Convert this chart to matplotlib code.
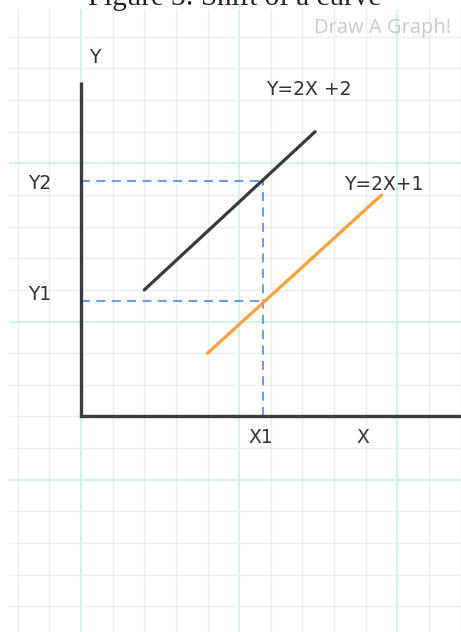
import matplotlib
matplotlib.use("Agg")
import matplotlib.pyplot as plt
import numpy as np

# Data (grid units, origin at axes corner)
line_a_x = [2.0, 7.4]      # Y=2X+2
line_a_y = [4.0, 9.0]
line_b_x = [4.0, 9.5]      # Y=2X+1
line_b_y = [2.0, 7.0]
x1_val = 5.76
y1_val = 3.65
y2_val = 7.44

labels = {
    "Y": (0.44, 11.33),
    "Y=2X +2": (7.2, 10.32),
    "Y2": (-1.31, 7.35),
    "Y=2X+1": (9.58, 7.32),
    "Y1": (-1.3, 3.84),
    "X1": (5.67, -0.65),
    "X": (8.91, -0.65),
}

W, H = 461, 632
fig = plt.figure(figsize=(W / 100, H / 100), dpi=100)
ax = fig.add_axes([0, 0, 1, 1])
ax.set_xlim(-2.56, 12.01)
ax.set_ylim(-6.81, 13.16)
ax.axis("off")

# background grid
gx0, gy1 = -2.28, 12.88
for gx in np.arange(-2, 13):
    major = (gx % 5 == 0)
    ax.plot([gx, gx], [-7, gy1], color="#d6f1e9" if major else "#ededed",
            lw=1.6 if major else 1.0, zorder=1, solid_capstyle="butt")
for gy in np.arange(-6, 13):
    major = ((gy - 3) % 5 == 0)
    ax.plot([gx0, 12.2], [gy, gy], color="#d6f1e9" if major else "#ededed",
            lw=1.6 if major else 1.0, zorder=1, solid_capstyle="butt")

# axes
ax.plot([0, 0], [0, 10.58], color="#3c3c3c", lw=2.4, zorder=4, solid_capstyle="butt")
ax.plot([0, 12.2], [0, 0], color="#3c3c3c", lw=2.4, zorder=4, solid_capstyle="projecting")

# dashed guides
dash_col = "#5b93ea"
ax.plot([0, x1_val], [y2_val, y2_val], color=dash_col, lw=1.3, ls=(0, (5, 3.5)), zorder=3)
ax.plot([0, x1_val], [y1_val, y1_val], color=dash_col, lw=1.3, ls=(0, (5, 3.5)), zorder=3)
ax.plot([x1_val, x1_val], [0, y2_val], color=dash_col, lw=1.3, ls=(0, (5, 3.5)), zorder=3)

# lines
ax.plot(line_a_x, line_a_y, color="#3a3a3a", lw=2.3, zorder=5, solid_capstyle="round")
ax.plot(line_b_x, line_b_y, color="#f7a13d", lw=2.3, zorder=5, solid_capstyle="round")

for t, (x, y) in labels.items():
    ax.text(x, y, t, ha="center", va="center", fontsize=13.5, color="#333333",
            family="DejaVu Sans", zorder=6)

ax.text(9.54, 12.28, "Draw A Graph!", ha="center", va="center", fontsize=14.5,
        color="#c9c9c9", family="Open Sans", zorder=6)

# title (partly cut off at top)
fig.text(0.51, 1 - 5 / H, "Figure 3: Shift of a curve", ha="center", va="baseline",
         fontsize=21, family="Liberation Serif", color="#222222")

fig.savefig("out.png", dpi=100)
